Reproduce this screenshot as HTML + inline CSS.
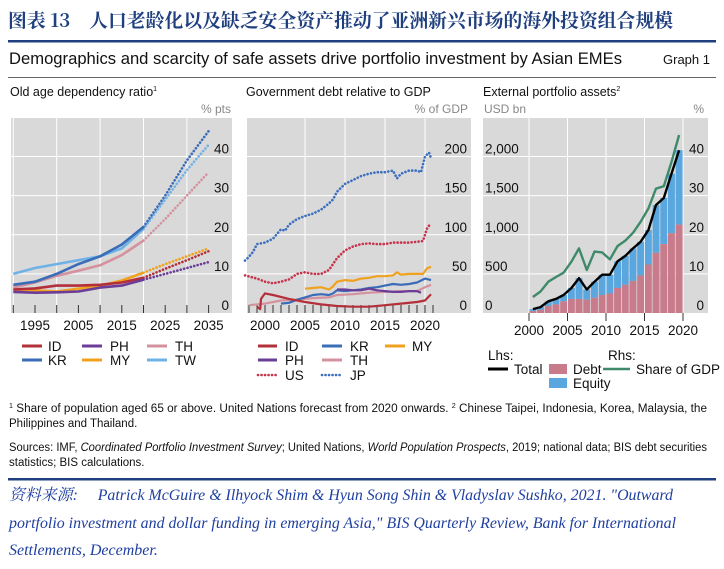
<!DOCTYPE html>
<html><head><meta charset="utf-8"><style>
html,body{margin:0;padding:0;background:#fff;}
svg{display:block;font-family:"Liberation Sans","Noto Sans CJK SC",sans-serif;}
</style></head><body>
<svg id="s" width="724" height="569" viewBox="0 0 724 569" xmlns="http://www.w3.org/2000/svg">
<text x="8" y="27" font-family="'Noto Serif CJK SC','Liberation Serif',serif" font-weight="bold" font-size="19" fill="#1f3f7f" textLength="665" lengthAdjust="spacingAndGlyphs">图表 13　人口老龄化以及缺乏安全资产推动了亚洲新兴市场的海外投资组合规模</text>
<rect x="8" y="40" width="708" height="2.5" fill="#1f3f7f"/>
<text x="9" y="64" font-size="16.5" fill="#111" textLength="613" lengthAdjust="spacingAndGlyphs">Demographics and scarcity of safe assets drive portfolio investment by Asian EMEs</text>
<text x="710" y="64" font-size="13" text-anchor="end" fill="#111">Graph 1</text>
<rect x="8" y="77" width="708" height="1" fill="#666"/>
<text x="10" y="96" font-size="12.5" fill="#111">Old age dependency ratio<tspan font-size="7" dy="-5">1</tspan></text>
<text x="246" y="96" font-size="12.5" fill="#111">Government debt relative to GDP</text>
<text x="483" y="96" font-size="12.5" fill="#111">External portfolio assets<tspan font-size="7" dy="-5">2</tspan></text>
<text x="231" y="113" font-size="12" fill="#888" text-anchor="end">% pts</text>
<text x="468" y="113" font-size="12" fill="#888" text-anchor="end">% of GDP</text>
<text x="484" y="113" font-size="12" fill="#888">USD bn</text>
<text x="704" y="113" font-size="12" fill="#888" text-anchor="end">%</text>
<rect x="11" y="118" width="221" height="195" fill="#d9d9d9"/>
<rect x="247" y="118" width="224" height="195" fill="#d9d9d9"/>
<rect x="483" y="118" width="225" height="195" fill="#d9d9d9"/>
<g id="g1"></g>
<g id="g2"></g>
<g id="g3"></g>

<g font-size="13.5" fill="#111">
<g><line x1="22" y1="346" x2="42" y2="346" stroke="#b3303a" stroke-width="3"/><text x="48" y="351">ID</text></g>
<g><line x1="82" y1="346" x2="102" y2="346" stroke="#6b3d98" stroke-width="3"/><text x="110" y="351">PH</text></g>
<g><line x1="147" y1="346" x2="167" y2="346" stroke="#d4929f" stroke-width="3"/><text x="175" y="351">TH</text></g>
<g><line x1="22" y1="360" x2="42" y2="360" stroke="#3a6cb8" stroke-width="3"/><text x="48" y="365">KR</text></g>
<g><line x1="82" y1="360" x2="102" y2="360" stroke="#f0a21e" stroke-width="3"/><text x="110" y="365">MY</text></g>
<g><line x1="147" y1="360" x2="167" y2="360" stroke="#6fb2e6" stroke-width="3"/><text x="175" y="365">TW</text></g>
</g>
<g font-size="13.5" fill="#111">
<g><line x1="258" y1="346" x2="277" y2="346" stroke="#b3303a" stroke-width="3"/><text x="285" y="351">ID</text></g>
<g><line x1="322" y1="346" x2="342" y2="346" stroke="#3a6cb8" stroke-width="3"/><text x="350" y="351">KR</text></g>
<g><line x1="385" y1="346" x2="405" y2="346" stroke="#f0a21e" stroke-width="3"/><text x="412" y="351">MY</text></g>
<g><line x1="258" y1="360" x2="277" y2="360" stroke="#6b3d98" stroke-width="3"/><text x="285" y="365">PH</text></g>
<g><line x1="322" y1="360" x2="342" y2="360" stroke="#d4929f" stroke-width="3"/><text x="350" y="365">TH</text></g>
<g><line x1="258" y1="375" x2="277" y2="375" stroke="#c8324a" stroke-width="2.6" stroke-dasharray="0.1 3.4" stroke-linecap="round"/><text x="285" y="380">US</text></g>
<g><line x1="322" y1="375" x2="342" y2="375" stroke="#3d6fc0" stroke-width="2.6" stroke-dasharray="0.1 3.4" stroke-linecap="round"/><text x="350" y="380">JP</text></g>
</g>
<g font-size="13.5" fill="#111">
<text x="488" y="360">Lhs:</text>
<text x="608" y="360">Rhs:</text>
<g><line x1="488" y1="369" x2="508" y2="369" stroke="#000" stroke-width="3"/><text x="514" y="374">Total</text></g>
<g><rect x="549" y="364" width="18" height="10" fill="#c77b8b"/><text x="573" y="374">Debt</text></g>
<g><line x1="603" y1="369" x2="630" y2="369" stroke="#3f8a6a" stroke-width="2.5"/><text x="636" y="374">Share of GDP</text></g>
<g><rect x="549" y="378" width="18" height="10" fill="#5aa6de"/><text x="573" y="388">Equity</text></g>
</g>
<g font-size="11.5" fill="#111">
<text x="9" y="412" textLength="698" lengthAdjust="spacingAndGlyphs"><tspan font-size="7" dy="-4">1</tspan><tspan dy="4"> Share of population aged 65 or above. United Nations forecast from 2020 onwards.  </tspan><tspan font-size="7" dy="-4">2</tspan><tspan dy="4"> Chinese Taipei, Indonesia, Korea, Malaysia, the</tspan></text>
<text x="9" y="427">Philippines and Thailand.</text>
<text x="9" y="451" textLength="698" lengthAdjust="spacingAndGlyphs">Sources: IMF, <tspan font-style="italic">Coordinated Portfolio Investment Survey</tspan>; United Nations, <tspan font-style="italic">World Population Prospects</tspan>, 2019; national data; BIS debt securities</text>
<text x="9" y="466">statistics; BIS calculations.</text>
</g>
<rect x="8" y="478" width="708" height="2.5" fill="#1f3f7f"/>
<g font-family="'Liberation Serif','Noto Serif CJK SC',serif" font-style="italic" font-size="16" fill="#2040a0">
<text x="9" y="500" textLength="664" lengthAdjust="spacingAndGlyphs">资料来源:　 Patrick McGuire &amp; Ilhyock Shim &amp; Hyun Song Shin &amp; Vladyslav Sushko, 2021. "Outward</text>
<text x="9" y="528" textLength="667" lengthAdjust="spacingAndGlyphs">portfolio investment and dollar funding in emerging Asia," BIS Quarterly Review, Bank for International</text>
<text x="9" y="555">Settlements, December.</text>
</g>
</svg>
<script>
// ---------- Panel 1 data ----------
const p1Years = [1990,1995,2000,2005,2010,2015,2020];
const p1FYears = [2020,2025,2030,2035];
const p1ID = [6,6.3,7,7,7.2,7.8,9];
const p1IDf = [9,11.3,13.5,15.8];
const p1PH = [5.4,5.2,5.3,5.5,6.5,7,8.5];
const p1PHf = [8.5,10,11.5,13];
const p1TH = [6.5,7.8,9.5,10.8,12.2,14.8,18.5];
const p1THf = [18.5,24,30,36];
const p1KR = [7.2,8,10,12.5,14.5,17.5,22];
const p1KRf = [22,30,39,46.5];
const p1MY = [5.8,5.8,5.5,6.2,7,8.3,10.3];
const p1MYf = [10.3,12.5,14.5,16.5];
const p1TW = [10,11.5,12.5,13.5,14.5,16.5,21.5];
const p1TWf = [21.5,29,36.5,43];
const p1Ticks = [0,10,20,30,40];
const p1XLabels = [1995,2005,2015,2025,2035];

// ---------- Panel 2 data ----------
const p2JPx = [1997.5,1998,1998.5,1999,2000,2001,2002,2002.5,2003,2004,2005,2006,2007,2008,2008.5,2009,2010,2011,2012,2013,2014,2015,2016,2016.5,2017,2018,2019,2019.5,2020,2020.5,2020.75];
const p2JP  = [67,72,78,88,90,95,107,105,113,120,124,127,132,140,145,155,165,170,175,178,180,180,182,172,178,182,182,180,200,205,198];
const p2USx = [1997.5,1999,2000,2001,2002,2003,2004,2005,2006,2007,2008,2009,2010,2011,2012,2013,2014,2015,2016,2017,2018,2019,2019.75,2020.25,2020.75];
const p2US  = [48,44,40,38,40,43,50,52,50,50,55,70,80,85,88,89,88,88,90,90,90,91,92,108,115];
const p2MYx = [2005,2006,2007,2008,2008.5,2009,2010,2011,2012,2013,2014,2015,2016,2016.5,2017,2018,2019,2019.75,2020.25,2020.75];
const p2MY  = [31,32,33,30,34,40,42,41,44,45,47,47,48,52,49,50,50,50,57,59];
const p2KRx = [2002,2003,2004,2005,2006,2007,2008,2008.5,2009,2010,2011,2012,2013,2014,2015,2016,2017,2018,2019,2020,2020.75];
const p2KR  = [12,13,17,20,23,24,23,25,29,28,29,30,32,33,35,37,36,37,39,44,42];
const p2PHx = [2009,2010,2011,2012,2013,2014,2015,2016,2017,2018,2019,2019.5];
const p2PH  = [30,30,29,29,31,29,28,27,27,28,28,26];
const p2THx = [1998,2000,2002,2004,2006,2008,2009,2011,2013,2015,2017,2019,2020,2020.75];
const p2TH  = [10,12,16,17,19,20,23,24,26,27,28,28,33,36];
const p2IDx = [1999,1999.4,1999.5,2000,2001,2003,2005,2007,2009,2011,2013,2015,2017,2019,2020,2020.75];
const p2ID  = [8,5,18,25,23,18,14,11,9,8,8,10,12,14,16,24];
const p2Ticks = [0,50,100,150,200];
const p2XLabels = [2000,2005,2010,2015,2020];

// ---------- Panel 3 data ----------
const p3Years = [2000,2001,2002,2003,2004,2005,2006,2007,2008,2009,2010,2011,2012,2013,2014,2015,2016,2017,2018,2019];
const p3Total = [50,75,150,180,230,320,445,300,400,490,490,660,730,825,910,1060,1380,1470,1780,2080];
const p3Debt  = [25,40,90,110,150,180,180,170,195,230,250,320,360,410,480,620,770,880,1020,1130];
const p3Share = [4.1,5.5,8,9.2,10.3,13.1,16.5,11,15.7,15.5,13.7,17.1,18.5,20.5,23.3,26.7,31.8,32.4,38.6,45.5];
const p3LTicks = [0,500,1000,1500,2000];
const p3RTicks = [0,10,20,30,40];
const p3XLabels = [2000,2005,2010,2015,2020];

const NS = "http://www.w3.org/2000/svg";
function mk(parent, tag, attrs){
  const e = document.createElementNS(NS, tag);
  for (const k in attrs) e.setAttribute(k, attrs[k]);
  parent.appendChild(e);
  return e;
}
const BASE = 313, TOP40 = 156.5;
const x1 = y => 13.3 + (y - 1990) * 21.7 / 5;
const y1 = v => BASE - v * (BASE - TOP40) / 40;
const x2 = y => 265 + (y - 2000) * 8;
const y2 = v => BASE - v * (BASE - TOP40) / 200;
const x3 = y => 529 + (y - 2000) * 7.7;
const y3L = v => BASE - v * (BASE - TOP40) / 2000;
const y3R = v => BASE - v * (BASE - TOP40) / 40;

function line(g, xs, ys, fx, fy, color, dotted, name, w){
  const d = xs.map((x,i)=>(i?'L':'M')+fx(x).toFixed(1)+','+fy(ys[i]).toFixed(1)).join('');
  const p = mk(g,'path',{d:d,fill:'none',stroke:color,'stroke-width':w||2.6,'stroke-linejoin':'round'});
  if (dotted){ p.setAttribute('stroke-dasharray','0.1 3.4'); p.setAttribute('stroke-linecap','round'); }
  
  
  return p;
}
function txt(g, x, y, s, anchor, name){
  const t = mk(g,'text',{x:x,y:y,'font-size':13.5,fill:'#111','text-anchor':anchor});
  t.textContent = s;
  
  
  return t;
}

// ---------- Panel 1 ----------
const g1 = document.getElementById('g1');
p1Ticks.forEach(v=>{ if(v>0){ const l=mk(g1,'line',{x1:11,x2:232,y1:y1(v),y2:y1(v),stroke:'#fff','stroke-width':1});
   }
  txt(g1,229,y1(v)-3,String(v),'end','p1-y-tick-label'); });
[1990,2000,2010,2020,2030].forEach(yr=>{ const l=mk(g1,'line',{x1:x1(yr),x2:x1(yr),y1:118,y2:313,stroke:'#fff','stroke-width':1});
    });
for(let yr=1990; yr<=2035; yr+=5){ const l=mk(g1,'line',{x1:x1(yr),x2:x1(yr),y1:305,y2:313,stroke:'#333','stroke-width':1});
    }
p1XLabels.forEach(yr=>txt(g1,x1(yr),330,String(yr),'middle','p1-x-tick-label'));
const p1Series = [[p1TW,p1TWf,'#6fb2e6','tw'],[p1TH,p1THf,'#d4929f','th'],[p1KR,p1KRf,'#3a6cb8','kr'],[p1MY,p1MYf,'#f0a21e','my'],[p1ID,p1IDf,'#b3303a','id'],[p1PH,p1PHf,'#6b3d98','ph']];
p1Series.forEach(s=>{
  line(g1,p1Years,s[0],x1,y1,s[2],false,'p1-line-'+s[3]);
  line(g1,p1FYears,s[1],x1,y1,s[2],true,'p1-forecast-'+s[3]);
});

// ---------- Panel 2 ----------
const g2 = document.getElementById('g2');
p2Ticks.forEach(v=>{ if(v>0){ const l=mk(g2,'line',{x1:247,x2:471,y1:y2(v),y2:y2(v),stroke:'#fff','stroke-width':1});
   }
  txt(g2,467,y2(v)-3,String(v),'end','p2-y-tick-label'); });
[2005,2010,2015,2020].forEach(yr=>{ const l=mk(g2,'line',{x1:x2(yr),x2:x2(yr),y1:118,y2:313,stroke:'#fff','stroke-width':1});
    });
for(let yr=1998; yr<=2021; yr++){ const l=mk(g2,'line',{x1:x2(yr),x2:x2(yr),y1:305,y2:313,stroke:'#333','stroke-width':1});
    }
p2XLabels.forEach(yr=>txt(g2,x2(yr),330,String(yr),'middle','p2-x-tick-label'));
line(g2,p2JPx,p2JP,x2,y2,'#3d6fc0',true,'p2-line-jp');
line(g2,p2USx,p2US,x2,y2,'#c8324a',true,'p2-line-us');
line(g2,p2MYx,p2MY,x2,y2,'#f0a21e',false,'p2-line-my',2.2);
line(g2,p2THx,p2TH,x2,y2,'#d4929f',false,'p2-line-th',2.2);
line(g2,p2KRx,p2KR,x2,y2,'#3a6cb8',false,'p2-line-kr',2.2);
line(g2,p2PHx,p2PH,x2,y2,'#6b3d98',false,'p2-line-ph',2.2);
line(g2,p2IDx,p2ID,x2,y2,'#b3303a',false,'p2-line-id',2.2);

// ---------- Panel 3 ----------
const g3 = document.getElementById('g3');
p3LTicks.forEach(v=>{ if(v>0){ const l=mk(g3,'line',{x1:483,x2:708,y1:y3L(v),y2:y3L(v),stroke:'#fff','stroke-width':1});
   }
  txt(g3,485,y3L(v)-3,v.toLocaleString('en-US'),'start','p3-left-tick-label'); });
p3RTicks.forEach(v=>txt(g3,704,y3R(v)-3,String(v),'end','p3-right-tick-label'));
[2000,2005,2010,2015,2020].forEach(yr=>{
  const l=mk(g3,'line',{x1:x3(yr),x2:x3(yr),y1:118,y2:313,stroke:'#fff','stroke-width':1});
   
  const t=mk(g3,'line',{x1:x3(yr),x2:x3(yr),y1:313,y2:321,stroke:'#333','stroke-width':1});
    });
p3XLabels.forEach(yr=>txt(g3,x3(yr),335,String(yr),'middle','p3-x-tick-label'));
p3Years.forEach((yr,i)=>{
  const xl = x3(yr)+0.4, w = 6.9;
  const eq = mk(g3,'rect',{x:xl,y:y3L(p3Total[i]),width:w,height:y3L(p3Debt[i])-y3L(p3Total[i]),fill:'#5aa6de'});
   
  const db = mk(g3,'rect',{x:xl,y:y3L(p3Debt[i]),width:w,height:BASE-y3L(p3Debt[i]),fill:'#c77b8b'});
   
});
const mid = y=>x3(y+0.5);
line(g3,p3Years,p3Share,mid,y3R,'#3f8a6a',false,'p3-line-share-of-gdp',2.4);
line(g3,p3Years,p3Total,mid,y3L,'#000',false,'p3-line-total',2.4);
</script>
</body></html>
